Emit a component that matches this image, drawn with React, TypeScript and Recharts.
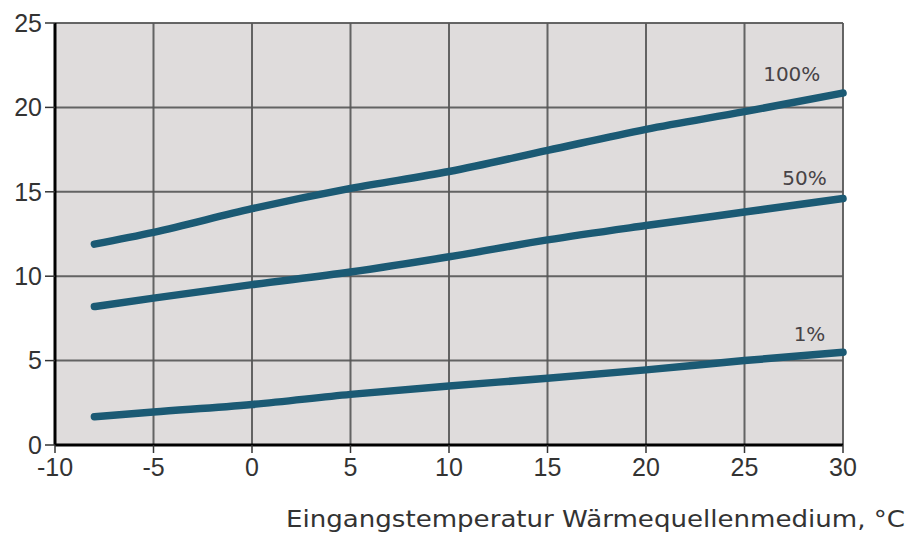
import React from "react";
import { LineChart, Line, XAxis, YAxis, CartesianGrid, ReferenceDot } from "recharts";

const temps = [-8, -5, 0, 5, 10, 15, 20, 25, 30];
const load100 = [11.9, 12.6, 14.0, 15.2, 16.2, 17.45, 18.7, 19.75, 20.85];
const load50 = [8.2, 8.7, 9.5, 10.25, 11.15, 12.15, 13.0, 13.8, 14.6];
const load1 = [1.67, 1.95, 2.4, 3.0, 3.5, 3.95, 4.45, 5.0, 5.5];
const xTicks = [-10, -5, 0, 5, 10, 15, 20, 25, 30];
const yTicks = [0, 5, 10, 15, 20, 25];
const seriesLabels = [
  { text: "100%", x: 27.4, y: 22.0 },
  { text: "50%", x: 28.05, y: 15.8 },
  { text: "1%", x: 28.3, y: 6.6 },
];
const xAxisTitle = "Eingangstemperatur Wärmequellenmedium, °C";

const data = temps.map((t, i) => ({ t, a: load100[i], b: load50[i], c: load1[i] }));

const tickFont = "'Liberation Sans', Arial, sans-serif";
const textFont = "'DejaVu Sans', 'Open Sans', sans-serif";
const lineColor = "#1b5a74";

export default function App() {
  return (
    <div style={{ position: "absolute", left: 0, top: 0, width: 910, height: 541, background: "#fff" }}>
      <LineChart width={910} height={541} data={data} margin={{ top: 23, right: 67, bottom: 60, left: 0 }}>
        <CartesianGrid fill="#dfdcdc" stroke="#555" strokeWidth={2} strokeOpacity={0.9} vertical horizontal syncWithTicks />
        <XAxis
          dataKey="t"
          type="number"
          domain={[-10, 30]}
          ticks={xTicks}
          height={36}
          axisLine={{ stroke: "#000", strokeWidth: 3 }}
          tickLine={{ stroke: "#333", strokeWidth: 1.5 }}
          tickSize={8}
          tickMargin={5}
          tick={{ fill: "#333", fontSize: 25, fontFamily: tickFont }}
          interval={0}
        />
        <YAxis
          type="number"
          domain={[0, 25]}
          ticks={yTicks}
          width={55}
          axisLine={{ stroke: "#000", strokeWidth: 3 }}
          tickLine={{ stroke: "#333", strokeWidth: 1.5 }}
          tickSize={10}
          tickMargin={3}
          tick={{ fill: "#333", fontSize: 25, fontFamily: tickFont }}
          interval={0}
        />
        <Line dataKey="a" type="monotone" stroke={lineColor} strokeWidth={7.5} dot={false} isAnimationActive={false} strokeLinecap="round" />
        <Line dataKey="b" type="monotone" stroke={lineColor} strokeWidth={7.5} dot={false} isAnimationActive={false} strokeLinecap="round" />
        <Line dataKey="c" type="monotone" stroke={lineColor} strokeWidth={7.5} dot={false} isAnimationActive={false} strokeLinecap="round" />
        {seriesLabels.map((l) => (
          <ReferenceDot
            key={l.text}
            x={l.x}
            y={l.y}
            r={0}
            fill="none"
            stroke="none"
            label={{ value: l.text, position: "center", fill: "#474346", fontSize: 20, fontFamily: textFont }}
          />
        ))}
      </LineChart>
      <svg width={910} height={541} style={{ position: "absolute", left: 0, top: 0, pointerEvents: "none" }}>
        <text x={905} y={527} textAnchor="end" fontSize={23} fontFamily={textFont} fill="#333" textLength={619} lengthAdjust="spacingAndGlyphs">
          {xAxisTitle}
        </text>
      </svg>
    </div>
  );
}
